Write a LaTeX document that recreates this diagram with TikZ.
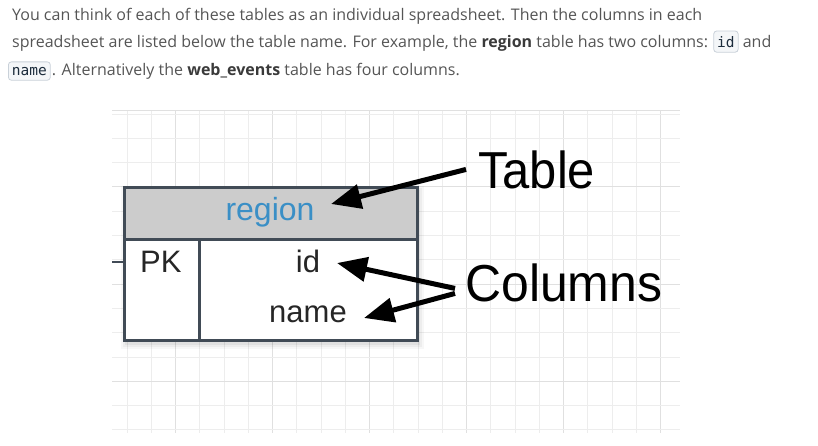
\documentclass[tikz,border=0pt]{standalone}
\usepackage{fontspec}
\setmainfont{Liberation Sans}
\newfontfamily\bodyfont{Open Sans}
\newfontfamily\codefont{DejaVu Sans Mono}
\usetikzlibrary{arrows.meta,calc}
\definecolor{bodytext}{HTML}{555555}
\definecolor{boldtext}{HTML}{3A3A3A}
\definecolor{codebg}{HTML}{F4F6F8}
\definecolor{codeline}{HTML}{C9D1D9}
\definecolor{codetext}{HTML}{1B2B3B}
\definecolor{gridminor}{HTML}{EDEDED}
\definecolor{gridmajor}{HTML}{E0E0E0}
\definecolor{tableborder}{HTML}{414B56}
\definecolor{headerfill}{HTML}{CCCCCC}
\definecolor{regionblue}{HTML}{3A8FC6}
\begin{document}
\begin{tikzpicture}[x=1pt,y=-1pt,
  bodystyle/.style={inner sep=0pt,anchor=base west,text=bodytext,font=\bodyfont\fontsize{16}{19}\selectfont},
  codestyle/.style={anchor=base west,draw=codeline,fill=codebg,rounded corners=3pt,line width=0.8pt,
     inner xsep=3.5pt,inner ysep=5pt,text=codetext,font=\codefont\fontsize{14.5}{17}\selectfont},
  celltext/.style={inner sep=0pt,anchor=base,text=black!85,font=\fontsize{31}{36}\selectfont},
  bigtext/.style={inner sep=0pt,anchor=base west,text=black,font=\fontsize{52}{60}\selectfont},
  callout/.style={line width=5pt,draw=black,-{Triangle[length=30pt,width=24pt]}}
]
\useasboundingbox (0,0) rectangle (818,445);
% ---- paragraph
\node[bodystyle] (l1) at (12,20) {You can think of each of these tables as an individual spreadsheet. Then the columns in each};
\node[bodystyle] (l2a) at (12,47) {spreadsheet are listed below the table name. For example, the {\color{boldtext}\bfseries region} table has two columns:};
\node[codestyle] (idc) at ($(l2a.base east)+(5,0)$) {id};
\node[bodystyle] (l2b) at ($(idc.base east)+(4,0)$) {and};
\node[codestyle] (namec) at (8,75) {name};
\node[bodystyle] (l3) at ($(namec.base east)+(1,0)$) {. Alternatively the {\color{boldtext}\bfseries web\_events} table has four columns.};
% ---- grid
\foreach \k in {0,...,22} {
  \pgfmathtruncatemacro{\m}{mod(\k,4)}
  \ifnum\m=2 \def\gc{gridmajor}\else\def\gc{gridminor}\fi
  \draw[\gc,line width=1pt] (127+24.25*\k,110) -- (127+24.25*\k,433);
}
\foreach \k in {0,...,13} {
  \pgfmathtruncatemacro{\m}{mod(\k,4)}
  \ifnum\m=3 \def\gc{gridmajor}\else\def\gc{gridminor}\fi
  \draw[\gc,line width=1pt] (112,114+24.3*\k) -- (680,114+24.3*\k);
}
\draw[gridmajor,line width=1pt] (112,110) -- (680,110);
% ---- shadow
\foreach \o/\a in {7/0.03,5/0.04,3/0.05} {
  \fill[black,opacity=\a] (124-\o+4,187-\o+6) rectangle (417+\o,340+\o+2);
}
% ---- table
\draw[tableborder,line width=2pt] (112,262) -- (124,262);
\fill[white] (124,239) rectangle (417,340);
\fill[headerfill] (124,187) rectangle (417,239);
\draw[tableborder,line width=3pt] (124,187) rectangle (417,340);
\draw[tableborder,line width=3pt] (124,239) -- (417,239);
\draw[tableborder,line width=3pt] (199,239) -- (199,340);
\node[celltext,text=regionblue,font=\fontsize{32}{36}\selectfont] (region) at (270,220) {region};
\node[celltext,anchor=base west] (pk) at (140,272) {PK};
\node[celltext] (idt) at (308,272) {id};
\node[celltext] (namet) at (308,322) {name};
% ---- callouts
\node[bigtext] (tablelbl) at (478,188) {\scalebox{0.94}[1]{Table}};
\node[bigtext] (colslbl) at (465,301) {\scalebox{0.96}[1]{Columns}};
\coordinate (tabletip) at (331,204);
\coordinate (idtip) at (337,263);
\coordinate (nametip) at (364,318);
\draw[callout] ($(tablelbl.west)+(-12,0)$) -- (tabletip);
\draw[callout] ($(colslbl.west)+(-10,6)$) -- (idtip);
\draw[callout] ($(colslbl.west)+(-10,11)$) -- (nametip);
\end{tikzpicture}
\end{document}
